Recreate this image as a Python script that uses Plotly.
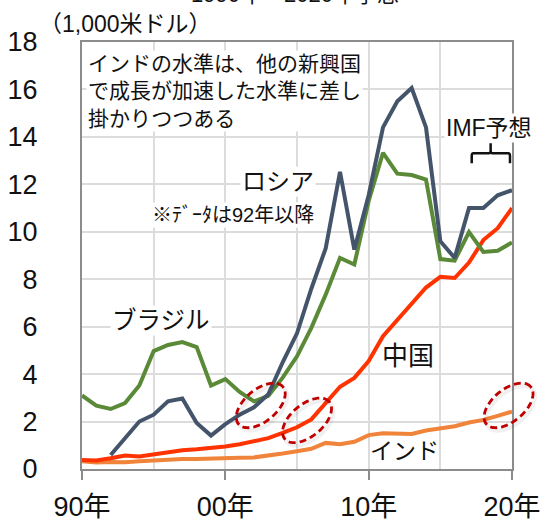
import math
import plotly.graph_objects as go

# ---------------- data ----------------
years = list(range(1990, 2021))

brazil = [3.10, 2.67, 2.53, 2.78, 3.52, 4.97, 5.23, 5.35, 5.14, 3.52,
          3.79, 3.25, 2.85, 3.08, 3.85, 4.75, 5.95, 7.35, 8.90, 8.62,
          11.30, 13.33, 12.45, 12.39, 12.20, 8.85, 8.78, 9.99, 9.15, 9.20, 9.55]

russia = [None, None, 0.59, 1.30, 2.00, 2.29, 2.85, 2.97, 1.94, 1.41,
          1.89, 2.29, 2.60, 3.15, 4.50, 5.72, 7.60, 9.30, 12.53, 9.25,
          11.54, 14.40, 15.50, 16.06, 14.40, 9.60, 8.90, 11.00, 11.00, 11.54, 11.75]

china = [0.38, 0.36, 0.45, 0.57, 0.53, 0.62, 0.72, 0.79, 0.83, 0.87,
         0.95, 1.04, 1.15, 1.30, 1.52, 1.76, 2.09, 2.75, 3.47, 3.84,
         4.55, 5.60, 6.30, 7.00, 7.65, 8.10, 8.05, 8.70, 9.65, 10.15, 11.00]

india = [0.33, 0.27, 0.30, 0.28, 0.33, 0.37, 0.40, 0.42, 0.42, 0.45,
         0.46, 0.47, 0.49, 0.56, 0.65, 0.75, 0.85, 1.10, 1.04, 1.15,
         1.43, 1.51, 1.50, 1.48, 1.62, 1.72, 1.80, 1.96, 2.07, 2.24, 2.42]

x_tickvals = [1990, 2000, 2010, 2020]
x_ticktext = ["90年", "00年", "10年", "20年"]

# ---------------- layout geometry ----------------
W, H = 540, 521
ML, MR, MT, MB = 82, 28, 42, 52
PW, PH = W - ML - MR, H - MT - MB
XR = (1990, 2020)
YR = (0, 18)
PX_PER_YEAR = PW / (XR[1] - XR[0])
PX_PER_UNIT = PH / (YR[1] - YR[0])

FONT = "Liberation Sans, Arial, Noto Sans CJK JP"

fig = go.Figure()

series = [
    ("インド", india, "#F0843A"),
    ("中国", china, "#FF3300"),
    ("ブラジル", brazil, "#5A8A37"),
    ("ロシア", russia, "#44546A"),
]
for name, vals, col in series:
    fig.add_trace(go.Scatter(
        x=years, y=vals, mode="lines", name=name,
        line=dict(color=col, width=4, shape="linear"),
        connectgaps=False, hoverinfo="skip"))


def to_paper(yr, val):
    return ((yr - XR[0]) / (XR[1] - XR[0]), (val - YR[0]) / (YR[1] - YR[0]))


def ellipse_path(cx, cy, a_px, b_px, ang_deg, dx_px=0.0, dy_px=0.0, n=72):
    th = math.radians(ang_deg)
    pts = []
    for i in range(n):
        t = 2 * math.pi * i / n
        dx = a_px * math.cos(th) * math.cos(t) - b_px * math.sin(th) * math.sin(t) + dx_px
        dy = a_px * math.sin(th) * math.cos(t) + b_px * math.cos(th) * math.sin(t) - dy_px
        pts.append(to_paper(cx + dx / PX_PER_YEAR, cy + dy / PX_PER_UNIT))
    s = "M %.5f,%.5f " % pts[0]
    s += " ".join("L %.5f,%.5f" % p for p in pts[1:])
    return s + " Z"


ellipse_centers = [(2002.47, 2.68), (2005.70, 2.05), (2019.76, 2.68)]
shapes = []
for cx, cy in ellipse_centers:
    shapes.append(dict(type="path", xref="paper", yref="paper", layer="above",
                       path=ellipse_path(cx, cy, 29, 16, 40, 2, 3),
                       line=dict(color="rgba(0,0,0,0.06)", width=4)))
    shapes.append(dict(type="path", xref="paper", yref="paper", layer="above",
                       path=ellipse_path(cx, cy, 29, 16, 40),
                       line=dict(color="#C00000", width=2.8, dash="7px,4px")))

# bracket under "IMF予想"
bx0, bx1, bxm = 2017.19, 2019.86, 2018.51
by, bylo, byhi = 13.31, 12.89, 13.73
rx, ry = 0.12, 0.12
bracket = (f"M {bx0},{bylo} L {bx0},{by - ry} Q {bx0},{by} {bx0 + rx},{by} "
           f"L {bxm - rx},{by} Q {bxm},{by} {bxm},{by + ry} L {bxm},{byhi} "
           f"M {bxm},{by + ry} Q {bxm},{by} {bxm + rx},{by} "
           f"L {bx1 - rx},{by} Q {bx1},{by} {bx1},{by - ry} L {bx1},{bylo}")
shapes.append(dict(type="path", xref="x", yref="y", layer="above", path=bracket,
                   line=dict(color="#111111", width=2.5)))

anns = [
    dict(text="インドの水準は、他の新興国<br>で成長が加速した水準に差し<br>掛かりつつある",
         x=1990.28, y=15.92, xanchor="left", yanchor="middle", align="left",
         font=dict(size=21, color="#111111"), bgcolor="white"),
    dict(text="ロシア", x=2003.68, y=12.1, xanchor="center", yanchor="middle",
         font=dict(size=24, color="#111111"), bgcolor="white"),
    dict(text="※ﾃﾞｰﾀは92年以降", x=2000.53, y=10.71, xanchor="center", yanchor="middle",
         font=dict(size=20, color="#111111"), bgcolor="white"),
    dict(text="ブラジル", x=1995.51, y=6.24, xanchor="center", yanchor="middle",
         font=dict(size=24.5, color="#111111"), bgcolor="white"),
    dict(text="中国", x=2012.74, y=4.76, xanchor="center", yanchor="middle",
         font=dict(size=26, color="#111111")),
    dict(text="インド", x=2012.47, y=0.76, xanchor="center", yanchor="middle",
         font=dict(size=23, color="#111111")),
    dict(text="IMF予想", x=2018.4, y=14.37, xanchor="center", yanchor="middle",
         font=dict(size=23, color="#111111"), bgcolor="white"),
    dict(text="（1,000米ドル）", xref="paper", yref="paper",
         x=(214 - ML) / PW, y=1 + (MT - 24) / PH, xanchor="right", yanchor="middle",
         font=dict(size=23, color="#111111")),
    dict(text="1990年～2020年予想", xref="paper", yref="paper",
         x=(295 - ML) / PW, y=1 + (MT - 9) / PH, xanchor="center", yanchor="bottom",
         font=dict(size=22, color="#111111")),
]
for a in anns:
    a.setdefault("xref", "x")
    a.setdefault("yref", "y")
    a["showarrow"] = False
    a["borderpad"] = 1

fig.update_layout(
    width=W, height=H,
    margin=dict(l=ML, r=MR, t=MT, b=MB, pad=0, autoexpand=False),
    paper_bgcolor="white", plot_bgcolor="white",
    showlegend=False,
    font=dict(family=FONT, color="#111111"),
    shapes=shapes, annotations=anns,
    xaxis=dict(range=list(XR), tickvals=x_tickvals, ticktext=x_ticktext,
               ticks="outside", ticklen=9, tickwidth=1.5, tickcolor="#8c8c8c",
               showline=True, linecolor="#8c8c8c", linewidth=2, mirror=True,
               showgrid=True, gridcolor="#dcdcdc", gridwidth=1.5,
               minor=dict(dtick=5, tick0=1990, showgrid=True, gridcolor="#dcdcdc",
                          gridwidth=1.5, ticks=""),
               zeroline=False, tickfont=dict(size=27, family=FONT),
               ticklabelstandoff=4, ticklabeloverflow="allow",
               automargin=False, fixedrange=True),
    yaxis=dict(range=list(YR), dtick=2, tick0=0, ticks="",
               showline=True, linecolor="#8c8c8c", linewidth=2, mirror=True,
               showgrid=True, gridcolor="#dcdcdc", gridwidth=1.5,
               zeroline=False, tickfont=dict(size=27, family=FONT),
               ticklabelstandoff=37, automargin=False, fixedrange=True),
)

fig.write_html("out.html")
